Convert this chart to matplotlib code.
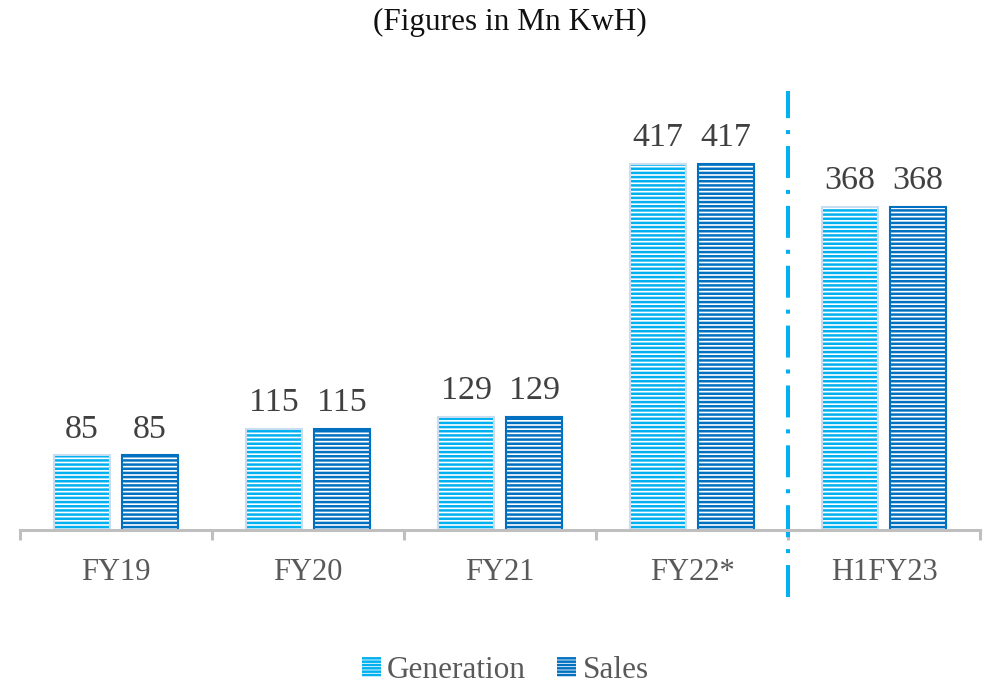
import matplotlib
matplotlib.use("Agg")
import matplotlib.pyplot as plt
from matplotlib.patches import Patch
import numpy as np

plt.rcParams['font.family'] = ['Liberation Serif']
plt.rcParams['hatch.linewidth'] = 1.8
plt.rcParams['lines.scale_dashes'] = False

years = ['FY19', 'FY20', 'FY21', 'FY22*', 'H1FY23']
generation = [85, 115, 129, 417, 368]
sales = [85, 115, 129, 417, 368]

gen_color = '#00B0F0'
gen_edge = '#C9DDF0'
sales_color = '#0070C0'

fig = plt.figure(figsize=(9.87, 6.88), dpi=100)
ax = fig.add_axes([0.0203, 0.2297, 0.9727, 0.655])

x = np.arange(len(years))
w = 0.29
off = 0.177

# hatched fill first, then outline on top
ax.bar(x - off, generation, w, color='white', edgecolor=gen_color, hatch='----', linewidth=0)
ax.bar(x - off, generation, w, fill=False, edgecolor=gen_edge, linewidth=1.5)
ax.bar(x + off, sales, w, color='white', edgecolor=sales_color, hatch='----', linewidth=0)
ax.bar(x + off, sales, w, fill=False, edgecolor=sales_color, linewidth=1.5)

for xi, g, s in zip(x, generation, sales):
    ax.text(xi - off, g + 12, str(g), ha='center', va='bottom', fontsize=24.5, color='#404040')
    ax.text(xi + off, s + 12, str(s), ha='center', va='bottom', fontsize=24.5, color='#404040')

ax.set_xlim(-0.5, len(years) - 0.5)
ax.set_ylim(0, 513)
ax.set_yticks([])
for side in ['left', 'right', 'top']:
    ax.spines[side].set_visible(False)
ax.spines['bottom'].set_color('#BFBFBF')
ax.spines['bottom'].set_linewidth(2.2)

ax.set_xticks(np.arange(-0.5, len(years)), minor=False)
ax.set_xticklabels([])
ax.tick_params(axis='x', length=7, width=2.2, color='#BFBFBF')
ax.set_xticks(x, minor=True)
ax.set_xticklabels(years, minor=True, fontsize=22, color='#595959')
ax.tick_params(axis='x', which='minor', length=0, pad=20)

# divider between full years and the half year
ax.axvline(3.5, ymin=-0.149, ymax=0.974, color=gen_color, linewidth=2.9,
           linestyle=(0, (23, 8.6, 2.9, 8.6)), dash_capstyle='butt', clip_on=False)

fig.text(0.517, 0.968, '(Figures in Mn KwH)', ha='center', va='center', fontsize=22.5, color='#111111')

handles = [Patch(facecolor='white', edgecolor=gen_color, hatch='-----', linewidth=0),
           Patch(facecolor='white', edgecolor=sales_color, hatch='-----', linewidth=0)]
leg = fig.legend(handles, ['Generation', 'Sales'], loc='center', bbox_to_anchor=(0.512, 0.025),
                 ncol=2, frameon=False, fontsize=22.5, handlelength=0.6, handleheight=0.6,
                 handletextpad=0.2, columnspacing=1.0)
for t in leg.get_texts():
    t.set_color('#595959')

fig.savefig('out.png', dpi=100)
